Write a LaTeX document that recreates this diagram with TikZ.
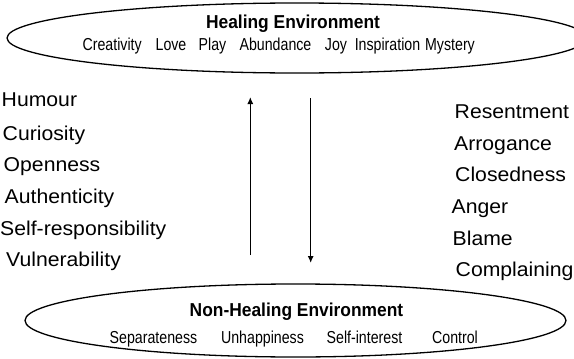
\documentclass[tikz,border=0pt]{standalone}
\usepackage{fontspec}
\setmainfont{Liberation Sans}
\newfontfamily\listfont[FakeStretch=1.06]{Liberation Sans}
\newfontfamily\ttlfont[FakeStretch=0.93]{Liberation Sans}
\newfontfamily\subfont[FakeStretch=0.82]{Liberation Sans}
\usetikzlibrary{arrows.meta}
\tikzset{
  env/.style={line width=1.3pt, draw=black},
  listitem/.style={inner sep=0pt, anchor=base west, font=\listfont\fontsize{20}{22}\selectfont, text=black},
  envtitle/.style={inner sep=0pt, anchor=base, font=\ttlfont\bfseries\fontsize{18.7}{20}\selectfont, text=black},
  envword/.style={inner sep=0pt, anchor=base, font=\subfont\fontsize{17.3}{19}\selectfont, text=black},
  flow/.style={line width=1.3pt, draw=black, -{Latex[length=7pt,width=6pt]}}
}
\begin{document}
\begin{tikzpicture}[x=1pt,y=-1pt]
\useasboundingbox (0,0) rectangle (574,359);
\clip (0,0) rectangle (574,359);
% ellipses
\draw[env] (297,38) ellipse [x radius=290pt, y radius=35pt];
\draw[env] (295.5,320.5) ellipse [x radius=270.5pt, y radius=36.5pt];
% top texts
\node[envtitle] (healing) at (293,28.7) {Healing Environment};
\node[envword] (w1) at (112.2,50.7) {Creativity};
\node[envword] (w2) at (171,50.7) {Love};
\node[envword] (w3) at (212.5,50.7) {Play};
\node[envword] (w4) at (275.5,50.7) {Abundance};
\node[envword] (w5) at (336,50.7) {Joy};
\node[envword] (w6) at (387.5,50.7) {Inspiration};
\node[envword] (w7) at (450,50.7) {Mystery};
% bottom texts
\node[envtitle] (nonhealing) at (296.5,316.7) {Non-Healing Environment};
\node[envword] (b1) at (153.5,343) {Separateness};
\node[envword] (b2) at (262.5,343) {Unhappiness};
\node[envword] (b3) at (364.5,343) {Self-interest};
\node[envword] (b4) at (455,343) {Control};
% left list
\node[listitem] (l1) at (1.5,106.7) {Humour};
\node[listitem] (l2) at (2.5,140) {Curiosity};
\node[listitem] (l3) at (3.5,171) {Openness};
\node[listitem] (l4) at (4.5,203.3) {Authenticity};
\node[listitem] (l5) at (0,235) {Self-responsibility};
\node[listitem] (l6) at (6,266.7) {Vulnerability};
% right list
\node[listitem] (r1) at (454.5,118.3) {Resentment};
\node[listitem] (r2) at (454,150) {Arrogance};
\node[listitem] (r3) at (455,181.7) {Closedness};
\node[listitem] (r4) at (451.5,213.3) {Anger};
\node[listitem] (r5) at (452.5,245) {Blame};
\node[listitem] (r6) at (455.5,276.7) {Complaining};
% arrows
\coordinate (upfrom) at (250.3,255);
\coordinate (upto) at (250.3,97);
\coordinate (downfrom) at (310.7,98);
\coordinate (downto) at (310.7,263);
\draw[flow] (upfrom) -- (upto);
\draw[flow] (downfrom) -- (downto);
\end{tikzpicture}
\end{document}
